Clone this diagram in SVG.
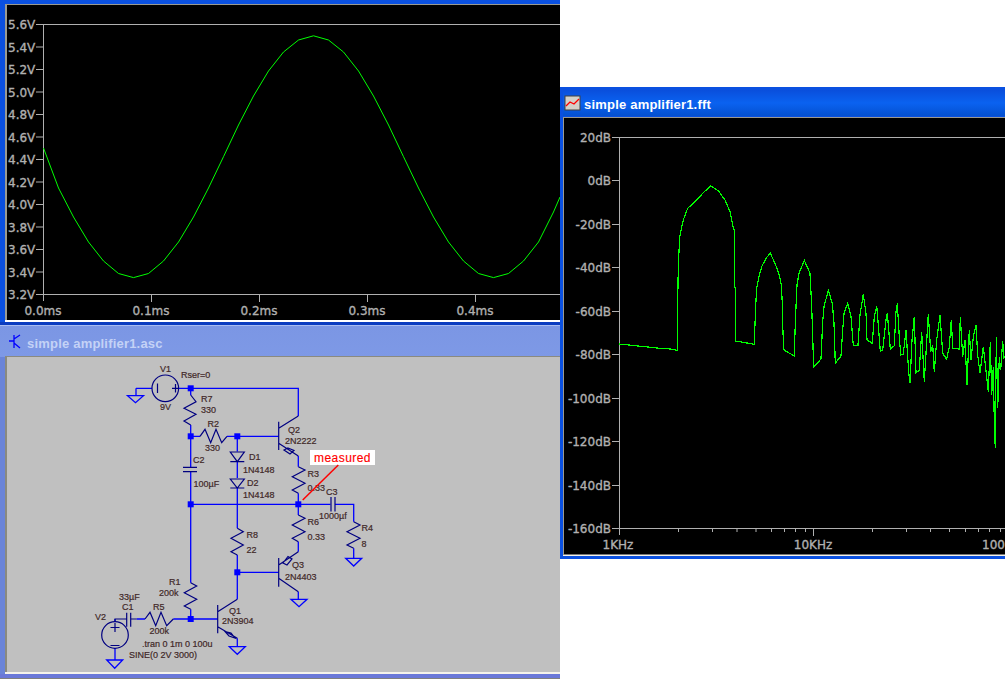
<svg xmlns="http://www.w3.org/2000/svg" width="1005" height="679" viewBox="0 0 1005 679">
<defs>
<linearGradient id="act" x1="0" y1="0" x2="0" y2="1"><stop offset="0" stop-color="#0a4fdc"/><stop offset=".5" stop-color="#0a62f0"/><stop offset="1" stop-color="#0450d0"/></linearGradient>
<linearGradient id="ina" x1="0" y1="0" x2="0" y2="1"><stop offset="0" stop-color="#7b96e4"/><stop offset=".5" stop-color="#8aa6ee"/><stop offset="1" stop-color="#7896e6"/></linearGradient>
</defs>
<style>
text{font-family:"DejaVu Sans",sans-serif}
.ax{font-size:12px;fill:#b0b0b0;stroke:#b0b0b0;stroke-width:.35}
.axl{fill:none;stroke:#b0b0b0;stroke-width:1}
.tr{fill:none;stroke:#00ff00;stroke-width:1}
.crisp{shape-rendering:crispEdges;stroke-width:1.2}
.ttl{font-family:"Liberation Sans",sans-serif;font-size:13px;font-weight:bold;letter-spacing:.2px}
.w{fill:none;stroke:#0000ff;stroke-width:1.3}
.c{fill:none;stroke:#000080;stroke-width:1.2}
.j{fill:#0000ff}
.l{font-family:"Liberation Sans",sans-serif;font-size:9px;fill:#402828;stroke:#402828;stroke-width:.2}
</style>
<rect width="1005" height="679" fill="#ffffff"/>

<g id="waveform-window">
<rect x="0" y="0" width="560" height="326" fill="#0a50e0"/>
<rect x="5" y="4" width="555" height="318" fill="#ffffff"/>
<rect x="5" y="4" width="555" height="1" fill="#9a9a90"/>
<rect x="5" y="4" width="2" height="316" fill="#9a9a90"/>
<rect x="7" y="5" width="553" height="315" fill="#000000"/>
<rect x="0" y="322" width="560" height="3" fill="#0a3cc0"/>
<path class="axl" d="M36 24.5H560M43.5 24.5V301M36 294.5H560M36 47H43.5M36 69.5H43.5M36 92H43.5M36 114.5H43.5M36 137H43.5M36 159.5H43.5M36 182H43.5M36 204.5H43.5M36 227H43.5M36 249.5H43.5M36 272H43.5M151.5 294.5V302M259.5 294.5V302M367.5 294.5V302M475.5 294.5V302"/>
<g class="ax">
<text x="8" y="29">5.6V</text><text x="8" y="52">5.4V</text><text x="8" y="74">5.2V</text><text x="8" y="97">5.0V</text><text x="8" y="119">4.8V</text><text x="8" y="142">4.6V</text><text x="8" y="164">4.4V</text><text x="8" y="187">4.2V</text><text x="8" y="209">4.0V</text><text x="8" y="232">3.8V</text><text x="8" y="254">3.6V</text><text x="8" y="277">3.4V</text><text x="8" y="299">3.2V</text>
<text x="43" y="315" text-anchor="middle">0.0ms</text><text x="151" y="315" text-anchor="middle">0.1ms</text><text x="259" y="315" text-anchor="middle">0.2ms</text><text x="367" y="315" text-anchor="middle">0.3ms</text><text x="475" y="315" text-anchor="middle">0.4ms</text>
</g>
<polyline class="tr" points="43.5,148 58.5,188 73.5,217 88.5,242 103.5,261 118.5,273.5 133.5,277.6 148.5,273.5 163.5,261 178.5,242 193.5,217 208.5,188 223.5,156.7 238.5,125 253.5,96 268.5,71 283.5,52 298.5,40 313.5,35.8 328.5,40 343.5,52 358.5,71 373.5,96 388.5,125 403.5,156.7 418.5,188 433.5,217 448.5,242 463.5,261 478.5,273.5 493.5,277.6 508.5,273.5 523.5,261 538.5,242 553.5,212 560,197"/>
</g>

<g id="schematic-window">
<rect x="0" y="325" width="560" height="353" fill="url(#ina)"/>
<rect x="0" y="325" width="560" height="1" fill="#a8bcf0"/>
<rect x="0" y="357" width="5" height="321" fill="#6a84d8"/>
<rect x="5" y="356" width="555" height="316" fill="#c0c0c0"/>
<rect x="5" y="356" width="555" height="1" fill="#8a8a80"/>
<rect x="5" y="356" width="2" height="316" fill="#8a8a80"/>
<rect x="5" y="672" width="555" height="2" fill="#f4f2ea"/>
<rect x="0" y="674" width="560" height="4" fill="#6a78d8"/>
<rect x="0" y="678" width="560" height="1" fill="#808080"/>
<path d="M14 335V348M14 341H9M14 339L20 335M14 343L20 348" fill="none" stroke="#0000ff" stroke-width="1.3"/>
<text class="ttl" x="27" y="348" fill="#c4d2f6">simple amplifier1.asc</text>
</g>

<g id="connectors">
<path class="w" d="M136 388.3V395.5M136 388.3H152M178.7 388.3H298.3V416M190.7 388.3V395M190.7 425V436.3M190.7 436.3V467M190.7 472V504.3M190.7 436.3H200M227 436.3H278.7M190.7 504.3H330.5M335 504.3H353.7V521.7M353.7 548.3V558.3M190.7 504.3V582.7M190.7 609.3V619M173.3 619H217.7M136.7 619H145M237.3 436.3V451.5M237.3 461.5V478M237.3 488V528.3M237.3 555V599.3M237.3 572.3H278.7M298.3 456V466.7M298.3 493.3V504.3M298.3 504.3V515M298.3 541.7V551.7M298.3 591.7V599.3M237.3 638.3V646.7M115 619V622M115 648V660"/>
<g class="j"><rect x="187.7" y="385.3" width="6" height="6"/><rect x="187.7" y="433.3" width="6" height="6"/><rect x="234.3" y="433.3" width="6" height="6"/><rect x="187.7" y="501.3" width="6" height="6"/><rect x="295.3" y="501.3" width="6" height="6"/><rect x="234.3" y="569.3" width="6" height="6"/><rect x="187.7" y="616" width="6" height="6"/></g>
</g>

<g id="V1"><circle class="c" cx="165.3" cy="388.3" r="13.3"/><path class="c" d="M157.5 383.5V393M172 388.3H178M175.5 384V392.5"/><text class="l" x="160" y="372">V1</text><text class="l" x="160" y="410">9V</text><text class="l" x="181" y="378">Rser=0</text></g>
<g id="GND1"><path class="w" d="M127.5 395.7H143.5L135.5 402.7Z"/></g>
<g id="R7"><path class="c" d="M190.7 395L196 401.7L184 408.3L196 414.3L184 421L190.7 425"/><text class="l" x="201" y="402">R7</text><text class="l" x="201" y="413">330</text></g>
<g id="R2"><path class="c" d="M200 436.3L205 429.3L210.7 442.7L216 429.3L221.7 442.7L227 436.3"/><text class="l" x="207.5" y="427">R2</text><text class="l" x="205" y="451">330</text></g>
<g id="C2"><path class="c" d="M183 467.3H197M183 471.7H197"/><text class="l" x="193" y="463">C2</text><text class="l" x="193.5" y="487">100µF</text></g>
<g id="D1"><path class="c" d="M230.3 452H244.3L237.3 461.7ZM230.3 461.7H244.3"/><text class="l" x="249" y="460">D1</text><text class="l" x="243" y="473">1N4148</text></g>
<g id="D2"><path class="c" d="M230.3 479H244.3L237.3 488ZM230.3 488H244.3"/><text class="l" x="247" y="486">D2</text><text class="l" x="243" y="498">1N4148</text></g>
<g id="Q2"><path class="c" d="M278.7 421.7V450M278.7 428.3L298.3 416M278.7 443.3L298.3 456M288 448L294 450.5L290 454L284 450Z"/><text class="l" x="288" y="433">Q2</text><text class="l" x="285" y="444">2N2222</text></g>
<g id="R3"><path class="c" d="M298.3 466.7L305 470L292.3 476.7L305 483.3L292.3 490L298.3 493.3"/><text class="l" x="307.5" y="477">R3</text><text class="l" x="307.5" y="491">0.33</text></g>
<g id="C3"><path class="c" d="M331 497V511.5M335 497V511.5"/><text class="l" x="326" y="495">C3</text><text class="l" x="319" y="519">1000µf</text></g>
<g id="R6"><path class="c" d="M298.3 515L305 518.3L292.3 525L305 531.7L292.3 538.3L298.3 541.7"/><text class="l" x="307.5" y="525">R6</text><text class="l" x="307.5" y="540">0.33</text></g>
<g id="R4"><path class="c" d="M353.7 521.7L360 525L347 531.7L360 538.3L347 545L353.7 548.3"/><text class="l" x="361.5" y="531">R4</text><text class="l" x="361.5" y="547">8</text></g>
<g id="GND4"><path class="w" d="M345.7 558.3H361.7L353.7 566Z"/></g>
<g id="R8"><path class="c" d="M237.3 528.3L243.3 531.7L231 538.3L243.3 545L231 551.7L237.3 555"/><text class="l" x="246.5" y="538">R8</text><text class="l" x="246.5" y="553">22</text></g>
<g id="Q3"><path class="c" d="M278.7 558V586.7M278.7 565L298.3 551.7M278.7 578.3L298.3 591.7M283 563L288 556.5L292 559L287 565Z"/><text class="l" x="292" y="568">Q3</text><text class="l" x="285" y="580">2N4403</text></g>
<g id="GND3"><path class="w" d="M291 599.3H307L299 606.7Z"/></g>
<g id="R1"><path class="c" d="M190.7 582.7L196.7 586L184.3 592.7L196.7 599.3L184.3 606L190.7 609.3"/><text class="l" x="169" y="585">R1</text><text class="l" x="159" y="596">200k</text></g>
<g id="Q1"><path class="c" d="M217.7 605V633.3M217.7 611.7L237.3 599.3M217.7 626.7L237.3 638.3M225 631.5L231 633L235 638L229 636Z"/><text class="l" x="229" y="614">Q1</text><text class="l" x="222" y="624">2N3904</text></g>
<g id="GND-Q1"><path class="w" d="M229.3 646.7H245.3L237.3 654.3Z"/></g>
<g id="R5"><path class="c" d="M145 619L150 612.3L155.7 625.7L161 612.3L166.7 625.7L173.3 619"/><text class="l" x="153" y="610">R5</text><text class="l" x="149.5" y="634">200k</text></g>
<g id="C1"><path class="c" d="M115 622V619H126.7M126.7 612.7V626.7M130.7 612.7V626.7M130.7 619H136.7"/><text class="l" x="119" y="600">33µF</text><text class="l" x="122" y="610">C1</text></g>
<g id="V2"><circle class="c" cx="115" cy="635" r="13.3"/><path class="c" d="M115 623V632M110.5 627.5H119.5M110.5 645.5H119.5"/><text class="l" x="95" y="620">V2</text></g>
<g id="GND2"><path class="w" d="M106.7 660H122.7L114.7 668.3Z"/></g>
<text class="l" x="142" y="647">.tran 0 1m 0 100u</text>
<text class="l" x="129" y="658">SINE(0 2V 3000)</text>

<g id="measured"><rect x="310" y="450" width="65" height="15" fill="#ffffff"/><path d="M338.3 465L302.7 500" fill="none" stroke="#ff0000" stroke-width="1.5"/><text x="342.5" y="461.5" text-anchor="middle" style="font-family:'Liberation Sans',sans-serif;font-size:12px;letter-spacing:.45px" fill="#ff0000" stroke="#ff0000" stroke-width=".15">measured</text></g>

<g id="fft-window">
<rect x="560" y="87" width="445" height="472" fill="#0a50e0"/>
<rect x="563" y="90" width="442" height="26" fill="url(#act)"/>
<rect x="563" y="117" width="442" height="39" fill="#9a9a90"/>
<rect x="563" y="117" width="442" height="439" fill="#f4f2ea"/>
<rect x="563" y="117" width="442" height="1" fill="#9a9a90"/>
<rect x="563" y="117" width="1" height="438" fill="#9a9a90"/>
<rect x="564" y="118" width="441" height="436.5" fill="#000000"/>
<rect x="565" y="96" width="15" height="14" fill="#d4d0c8" stroke="#404040"/>
<path d="M566 106L570 102L574 104L579 99" fill="none" stroke="#ff0000" stroke-width="1.3"/>
<text class="ttl" x="584" y="109" fill="#ffffff">simple amplifier1.fft</text>
<path class="axl" d="M612 137.5H1005M619.5 137.5V535M612 528.5H1005M612 180.5H619.5M612 224.5H619.5M612 267.5H619.5M612 311.5H619.5M612 354.5H619.5M612 398.5H619.5M612 441.5H619.5M612 485.5H619.5M813.5 528.5V536M678.5 528.5V532M712.5 528.5V532M737 528.5V532M756 528.5V532M771.5 528.5V532M784.5 528.5V532M795.5 528.5V532M805.5 528.5V532M872.5 528.5V532M906.5 528.5V532M930.5 528.5V532M949.5 528.5V532M965.5 528.5V532M978.5 528.5V532M989.5 528.5V532M1000.5 528.5V532"/>
<g class="ax" text-anchor="end">
<text x="611" y="142">20dB</text><text x="611" y="185">0dB</text><text x="611" y="229">-20dB</text><text x="611" y="272">-40dB</text><text x="611" y="316">-60dB</text><text x="611" y="359">-80dB</text><text x="611" y="403">-100dB</text><text x="611" y="446">-120dB</text><text x="611" y="490">-140dB</text><text x="611" y="533">-160dB</text>
</g>
<g class="ax"><text x="618" y="549" text-anchor="middle">1KHz</text><text x="813" y="549" text-anchor="middle">10KHz</text><text x="982" y="549">100</text></g>
<polyline class="tr crisp" points="619,344 660,348.3 670,349 677.3,350.3 677.3,323 678.3,266.7 679.7,236.7 683.3,220 687.7,208.3 695,201.7 703.3,192.7 710.7,186 718.3,190.7 725,200 730,211.7 733.3,228.3 734.3,230 734.3,286.7 735.7,287.7 735.7,341 754.3,344.3 754.7,331.7 755.7,305 756.7,288 759,276.7 761.7,266.7 766,258.3 770.3,253.3 775,263.3 779.3,275 781.3,285 782.3,303.3 783,333.3 784,350 794.3,356 794.7,340 796,306.7 797,285 799,273.3 804.3,260.3 810,273.3 811.7,306.7 813.7,367.3 821,359 822.7,321.7 824,306.7 828.3,290.3 832.3,303.3 834,323.3 835.3,363.3 841,356 842.7,330 844,313.3 847.7,303.3 851,316.7 853.3,345.7 858,345 860,315 863.3,294.3 866,313.3 867,340 872.3,343.3 874.3,316.7 876.7,306 878.3,325 880.3,351 882.7,350 886,320 887.3,312.7 889.3,336.7 890.3,349.3 894.3,345.7 896,311.7 897.3,303.3 899.3,336.7 900.7,355 903.3,354 906,330 907.7,356.7 909,375 910,383.3 912,340 914.3,316.7 916,373 919.3,370 921.7,331.7 924.3,381.7 928.3,314.3 930.7,351.7 932.7,345 934.3,371.7 936.7,340 940,315 942.7,353.3 946.7,359.3 949.3,346.7 951.3,320 952.7,348.3 959.3,349 960.3,317.3 962.7,356.7 965,340 967,385 969.3,330 971,360 973.3,336.7 976,325 977.7,355 980,373.3 983.3,346.7 985.7,368.3 988.3,391.7 990.3,342.3 991.7,395 993.3,366.7 994.3,421.7 995.3,448.3 996.3,337.3 997.7,408.3 999.3,356.7 1000.7,370 1002.7,341 1004,358 1005,356.7"/>
</g>
</svg>
